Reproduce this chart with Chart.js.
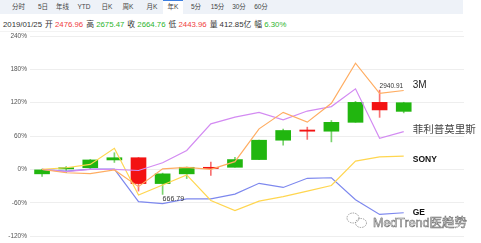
<!DOCTYPE html>
<html>
<head>
<meta charset="utf-8">
<script src="https://cdn.jsdelivr.net/npm/chart.js@4.4.0/dist/chart.umd.min.js"></script>
<style>
  body { margin: 0; width: 481px; height: 243px; background: #fff; overflow: hidden; position: relative;
         font-family: "Liberation Sans", "Noto Sans CJK SC", sans-serif; }
  #tabs { position: absolute; left: 0; top: 0; width: 463px; height: 14px; background: #eef2f8; }
  .tab { position: absolute; top: 0; height: 14px; line-height: 14px; font-size: 6.5px; color: #444;
         transform: translateX(-50%); white-space: nowrap; }
  .tab.on { background: #fff; border-top: 1.5px solid #3d7fe0; height: 12.5px; line-height: 12.5px;
            width: 20px; text-align: center; }
  #info { position: absolute; left: 3px; top: 18px; font-size: 7.8px; color: #333; white-space: nowrap; }
  #info b { font-weight: normal; margin-left: 3px; }
  .r { color: #f04040; }
  .g { color: #2db52d; }
  #sep { position: absolute; left: 0; top: 31px; width: 463px; height: 1px; background: #f3f3f3; }
  canvas { position: absolute; left: 0; top: 0; }
</style>
</head>
<body>
<div id="tabs">
  <span class="tab" style="left:18.5px">分时</span>
  <span class="tab" style="left:43px">5日</span>
  <span class="tab" style="left:62.5px">年线</span>
  <span class="tab" style="left:84px">YTD</span>
  <span class="tab" style="left:107px">日K</span>
  <span class="tab" style="left:128px">周K</span>
  <span class="tab" style="left:152px">月K</span>
  <span class="tab on" style="left:173px">年K</span>
  <span class="tab" style="left:196px">5分</span>
  <span class="tab" style="left:217.5px">15分</span>
  <span class="tab" style="left:239px">30分</span>
  <span class="tab" style="left:261px">60分</span>
</div>
<div id="info">2019/01/25<b>开</b> <span class="r">2476.96</span><b>高</b> <span class="g">2675.47</span><b>收</b> <span class="g">2664.76</span><b>低</b> <span class="r">2443.96</span><b>量</b> 412.85亿<b>幅</b> <span class="g">6.30%</span></div>
<div id="sep"></div>
<canvas id="chart" width="481" height="243"></canvas>
<script>
// years shown as annual candles, plus two empty slots on the right for the labels
const years = ['2004', '2005', '2006', '2007', '2008', '2009', '2010', '2011',
               '2012', '2013', '2014', '2015', '2016', '2017', '2018', '2019'];
const slots = years.concat(['', '']);

// index candles, in % vs. base
const candleOpen  = [-8, 0, 3, 17, 21, -25.5, -8, 3.8, 3.8, 17.7, 52.5, 70, 68.7, 84.7, 120.6, 104.4];
const candleClose = [0, 3, 17, 21, -25.5, -8, 3.8, 3.8, 17.7, 52.5, 70, 68.7, 84.7, 120.6, 107, 120];
const candleHigh  = [0.5, 5, 18, 30, 21.5, -6.7, 4.2, 13, 21.5, 52.6, 72.7, 76, 88, 122.4, 142.7, 120.8];
const candleLow   = [-12.5, -6, 0.5, 12.5, -39, -45, -16.5, -11, 4, 17.7, 43.5, 54, 49.5, 84.7, 93.6, 101.7];
const highPrice = '2940.91';
const lowPrice = '666.79';

// stock lines, % change
const mmm  = [0, -6, -7.5, -1, -31, 1, 3.5, 0, 14, 73, 102.6, 85, 119, 191, 137, 142];
const pm   = [0, -4, 0, 0, -2, 12, 34, 82, 94, 102.6, 89, 105, 113, 145, 56, 68];
const sony = [0, 3, 9, 38, -46, -28, -10, -56, -74, -57, -49, -39, -29, 15, 22.5, 24];
const ge   = [0, -3, 0.5, 0.5, -58, -61.5, -53, -53, -44.5, -25, -32.5, -16, -15, -54.6, -81, -78];

const yTicks = [-120, -60, 0, 60, 120, 180, 240];

const UP = '#21b60f';
const DOWN = '#f31212';
const bodyColors = years.map((_, i) => candleClose[i] > candleOpen[i] ? UP : DOWN);
const wickColors = years.map((_, i) => candleClose[i] > candleOpen[i] ? 'rgba(33,182,15,0.6)' : 'rgba(243,18,18,0.6)');

const seriesLabels = [
  { data: mmm,  text: '3M',           font: '10px "Liberation Sans"',        color: '#222', dy: -5 },
  { data: pm,   text: '菲利普莫里斯',   font: '10.5px "Noto Sans CJK SC"',     color: '#444', dy: -3 },
  { data: sony, text: 'SONY',         font: 'bold 8.5px "Liberation Sans"',  color: '#111', dy: 4 },
  { data: ge,   text: 'GE',           font: 'bold 8.5px "Liberation Sans"',  color: '#111', dy: 0 }
];

const annotate = {
  id: 'annotate',
  afterDatasetsDraw(chart) {
    const { ctx, scales: { x, y } } = chart;
    ctx.save();

    // high / low prices
    const hi = candleHigh.indexOf(Math.max(...candleHigh));
    const lo = candleLow.indexOf(Math.min(...candleLow));
    ctx.fillStyle = '#333';
    ctx.font = '6.5px "Liberation Sans"';
    ctx.textAlign = 'left';
    ctx.textBaseline = 'bottom';
    ctx.fillText(highPrice, x.getPixelForValue(hi), y.getPixelForValue(candleHigh[hi]) - 1);
    ctx.font = '7px "Liberation Sans"';
    ctx.textBaseline = 'top';
    ctx.fillText(lowPrice, x.getPixelForValue(lo), y.getPixelForValue(candleLow[lo]) + 1);

    // names at the line ends
    ctx.textBaseline = 'middle';
    seriesLabels.forEach(s => {
      const last = s.data.length - 1;
      ctx.font = s.font;
      ctx.fillStyle = s.color;
      ctx.fillText(s.text, x.getPixelForValue(last) + 9, y.getPixelForValue(s.data[last]) + s.dy);
    });

    // watermark
    ctx.strokeStyle = '#888';
    ctx.lineWidth = 0.8;
    ctx.setLineDash([1.5, 1]);
    ctx.beginPath();
    ctx.ellipse(353, 218, 6, 5, 0, 0, Math.PI * 2);
    ctx.stroke();
    ctx.beginPath();
    ctx.ellipse(361, 223, 5.5, 4.5, 0, 0, Math.PI * 2);
    ctx.stroke();
    ctx.setLineDash([]);
    ctx.font = '12.5px "Liberation Sans", "Noto Sans CJK SC"';
    ctx.textBaseline = 'alphabetic';
    ctx.fillStyle = 'rgba(255,255,255,0.85)';
    ctx.fillText('MedTrend医趋势', 373, 227);
    ctx.strokeStyle = '#707070';
    ctx.lineWidth = 0.6;
    ctx.strokeText('MedTrend医趋势', 373, 227);
    ctx.restore();
  }
};

function lineSet(label, data, color) {
  return {
    type: 'line', label, data,
    borderColor: color, borderWidth: 1.2,
    pointRadius: 0, tension: 0, fill: false, order: 0
  };
}

new Chart(document.getElementById('chart'), {
  type: 'bar',
  data: {
    labels: slots,
    datasets: [
      lineSet('3M', mmm, '#ffad62'),
      lineSet('菲利普莫里斯', pm, '#d38bf2'),
      lineSet('SONY', sony, '#ffd650'),
      lineSet('GE', ge, '#7d88ee'),
      {
        label: 'body',
        data: years.map((_, i) => [candleOpen[i], candleClose[i]]),
        backgroundColor: bodyColors,
        barThickness: 15, minBarLength: 1.2, grouped: false, order: 2
      },
      {
        label: 'wick',
        data: years.map((_, i) => [candleLow[i], candleHigh[i]]),
        backgroundColor: wickColors,
        barThickness: 1, grouped: false, order: 3
      }
    ]
  },
  options: {
    responsive: false,
    animation: false,
    layout: { padding: { top: 36, bottom: 5, left: 0, right: 17 } },
    plugins: { legend: { display: false }, tooltip: { enabled: false } },
    scales: {
      x: { display: false, offset: true },
      y: {
        min: -120, max: 240,
        afterFit: s => { s.width = 30; },
        afterBuildTicks: s => { s.ticks = yTicks.map(v => ({ value: v })); },
        border: { display: false },
        grid: { color: '#eeeeee', drawTicks: false },
        ticks: {
          color: '#555', padding: 3,
          font: { size: 6.5, family: '"Liberation Sans"' },
          callback: v => v + '%'
        }
      }
    }
  },
  plugins: [annotate]
});
</script>
</body>
</html>
